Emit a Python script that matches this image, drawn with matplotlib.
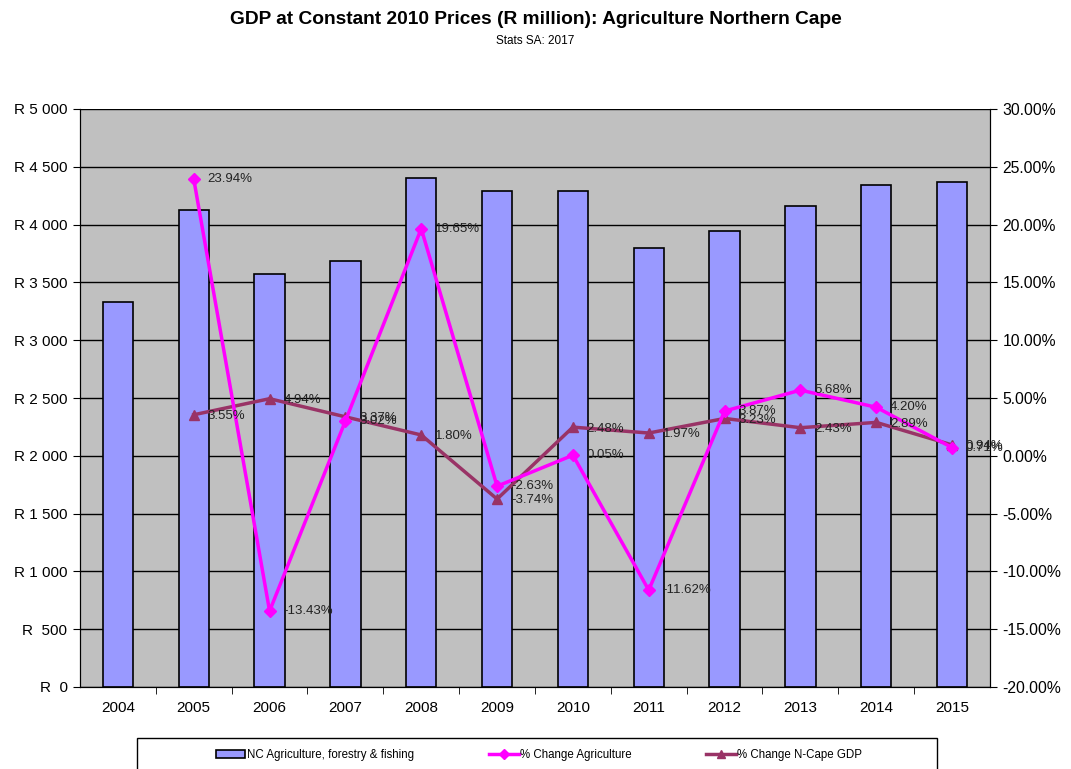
import matplotlib.pyplot as plt
from matplotlib.patches import Rectangle
from matplotlib.ticker import FixedLocator, FuncFormatter

plt.rcParams['font.family'] = ['Liberation Sans', 'DejaVu Sans']

YEARS = ["2004", "2005", "2006", "2007", "2008", "2009",
         "2010", "2011", "2012", "2013", "2014", "2015"]
AGRI_GDP = [3332, 4130, 3575, 3683, 4407, 4291, 4293, 3794, 3941, 4165, 4340, 4371]
AGRI_CHANGE = [None, 23.94, -13.43, 3.02, 19.65, -2.63, 0.05, -11.62, 3.87, 5.68, 4.20, 0.71]
NCAPE_CHANGE = [None, 3.55, 4.94, 3.37, 1.80, -3.74, 2.48, 1.97, 3.23, 2.43, 2.89, 0.94]

BAR_COLOR = "#9999FF"
AGRI_COLOR = "#FF00FF"
NCAPE_COLOR = "#993366"


def rand_fmt(v, pos):
    if v >= 1000:
        return "R {:,}".format(int(v)).replace(",", " ")
    return "R  {}".format(int(v))


fig = plt.figure(figsize=(10.71, 7.69), dpi=100)
ax = fig.add_axes([80 / 1071, 1 - 687 / 769, 910 / 1071, 578 / 769])
ax.set_facecolor("#C0C0C0")

x = list(range(len(YEARS)))
bars = ax.bar(x, AGRI_GDP, width=0.4, color=BAR_COLOR, edgecolor="black",
              linewidth=1.2, zorder=2, label="NC Agriculture, forestry & fishing")

ax.set_xlim(-0.5, len(YEARS) - 0.5)
ax.set_ylim(0, 5000)
ax.yaxis.set_major_locator(FixedLocator(range(0, 5001, 500)))
ax.yaxis.set_major_formatter(FuncFormatter(rand_fmt))
ax.yaxis.grid(True, color="black", linewidth=1.0, zorder=0)
ax.set_axisbelow(True)
ax.set_xticks(x)
ax.set_xticklabels(YEARS)
ax.set_xticks([i + 0.5 for i in x[:-1]], minor=True)
ax.tick_params(axis="x", which="major", length=0, pad=10, labelsize=11)
ax.tick_params(axis="x", which="minor", length=5, direction="out")
ax.tick_params(axis="y", length=5, direction="out", labelsize=11, pad=4)
ax.spines["top"].set_visible(False)

ax2 = ax.twinx()
ax2.set_ylim(-20, 30)
ax2.yaxis.set_major_locator(FixedLocator(range(-20, 31, 5)))
ax2.yaxis.set_major_formatter(FuncFormatter(lambda v, p: "{:.2f}%".format(v)))
ax2.tick_params(axis="y", length=5, direction="out", labelsize=11.3, pad=4)
ax2.spines["top"].set_visible(False)

xs = x[1:]
agri = AGRI_CHANGE[1:]
ncape = NCAPE_CHANGE[1:]
l1, = ax2.plot(xs, agri, color=AGRI_COLOR, linewidth=2.5, marker="D",
               markersize=6, zorder=4, label="% Change Agriculture")
l2, = ax2.plot(xs, ncape, color=NCAPE_COLOR, linewidth=2.5, marker="^",
               markersize=7, zorder=3, label="% Change N-Cape GDP")

# value labels sit just right of each point
for xi, v in zip(xs, agri):
    ax2.annotate("{:.2f}%".format(v), (xi, v), xytext=(10, 0),
                 textcoords="offset points", va="center", ha="left",
                 fontsize=9.5, color="#222222", zorder=6)
for xi, v in zip(xs, ncape):
    ax2.annotate("{:.2f}%".format(v), (xi, v), xytext=(10, -1),
                 textcoords="offset points", va="center", ha="left",
                 fontsize=9.5, color="#222222", zorder=6)

fig.text(0.5, 1 - 20 / 769, "GDP at Constant 2010 Prices (R million): Agriculture Northern Cape",
         ha="center", va="center", fontsize=13.8, fontweight="bold")
fig.text(0.5, 1 - 41 / 769, "Stats SA: 2017", ha="center", va="center", fontsize=8.5)

# legend box runs off the bottom edge of the figure
fig.patches.append(Rectangle((137 / 1071, -0.02), 800 / 1071, 0.02 + (769 - 738) / 769,
                             transform=fig.transFigure, facecolor="white",
                             edgecolor="black", linewidth=1.0, zorder=0))
leg = fig.legend([bars, l1, l2],
                 ["NC Agriculture, forestry & fishing", "% Change Agriculture", "% Change N-Cape GDP"],
                 loc="center", ncol=3,
                 bbox_to_anchor=(539 / 1071, 1 - 755 / 769),
                 borderaxespad=0, fontsize=8.3, frameon=False,
                 borderpad=0, handlelength=2.6, handletextpad=0.1,
                 columnspacing=6.5, markerscale=0.8)

fig.savefig("out.png", dpi=100)
